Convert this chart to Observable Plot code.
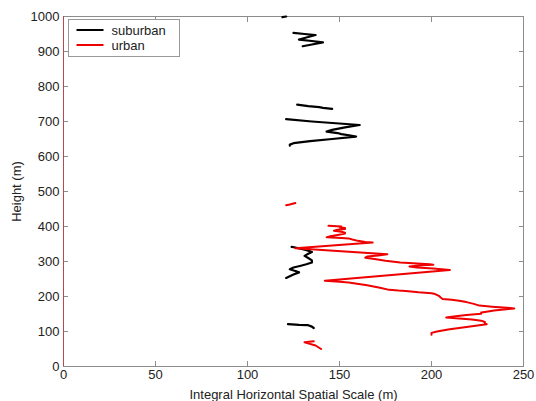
<!DOCTYPE html>
<html>
<head>
<meta charset="utf-8">
<script src="https://cdn.jsdelivr.net/npm/d3@7"></script>
<script src="https://cdn.jsdelivr.net/npm/@observablehq/plot@0.6"></script>
<style>
  body { margin: 0; background: #fff; }
  #chart { width: 536px; height: 401px; }
</style>
</head>
<body>
<div id="chart"></div>
<script>
// ---- data ----
const xTicks = [0, 50, 100, 150, 200, 250];
const yTicks = [0, 100, 200, 300, 400, 500, 600, 700, 800, 900, 1000];
const seriesNames = ["suburban", "urban"];
const seriesColors = ["#000000", "#ee0000"];
const xTitle = "Integral Horizontal Spatial Scale (m)";
const yTitle = "Height (m)";

// null entries mark gaps between measured stretches
const suburbanHeight = [1000, 998, null,
  953, 950, 947, 940, 934, 930, 926, 920, 915, null,
  748, 744, 741, 739, 736, null,
  707, 700, 695, 690, 683, 676, 671, 667, 664, 660, 657, 650, 644, 638, 634, 631, null,
  342, 340, 335, 331, 327, 322, 316, 310, 303, 297, 292, 288, 283, 278, 273, 269, 263, 258, 253, null,
  121, 119, 118, 114, 110];
const suburbanScale = [121, 119, null,
  125, 131, 137, 132, 128, 135, 141, 135, 130, null,
  127, 133, 139, 141, 146, null,
  121, 135, 148, 161, 153, 146, 143, 149, 151, 156, 159, 146, 134, 125, 123, 123, null,
  124, 126, 130, 133, 135, 133, 131, 133, 135, 135, 132, 129, 125, 123, 126, 128, 125, 123, 121, null,
  122, 128, 133, 135, 136];

const urbanHeight = [467, 463, 461, null,
  402, 400, 398, 396, 393, 391, 388, 385, 382, 380, 376, 372, 369, 367, 366, 363, 359, 356, 354,
  338, 321, 317, 314, 311, 307, 302, 297, 292, 291, 289, 286, 283, 280, 276,
  245, 242, 240, 232, 225, 219, 217, 216, 212, 209, 207, 202, 197, 193, 191, 188, 184, 179, 174,
  171, 168, 166, 164, 160, 156, 154, 151, 147, 143, 140, 137, 134, 131, 127, 123, 121,
  113, 106, 100, 96, 93, 91, null,
  72, 69, 60, 50];
const urbanScale = [126, 123, 121, null,
  144, 151, 150, 153, 153, 149, 147, 151, 153, 153, 149, 145, 143, 151, 155, 157, 160, 164, 168,
  126, 176, 171, 165, 164, 169, 175, 183, 199, 201, 195, 188, 192, 201, 210,
  142, 150, 155, 165, 172, 177, 182, 186, 193, 200, 202, 204, 205, 206, 211, 215, 219, 223, 226,
  233, 241, 245, 242, 234, 229, 227, 227, 219, 212, 208, 215, 222, 227, 229, 229, 230,
  219, 209, 203, 200, 200, 200, null,
  136, 131, 137, 140];

// ---- build tables ----
const toRows = (hs, vs, s) => hs.map((h, i) => ({height: h, scale: vs[i], series: s}));
const suburbanRows = toRows(suburbanHeight, suburbanScale, seriesNames[0]);
const urbanRows = toRows(urbanHeight, urbanScale, seriesNames[1]);

const font = "'Liberation Sans', Arial, Helvetica, sans-serif";
const axisGray = "#8c8c8c";

const chart = Plot.plot({
  width: 536,
  height: 401,
  marginLeft: 63,
  marginRight: 13,
  marginTop: 16,
  marginBottom: 35,
  x: {domain: [0, 250]},
  y: {domain: [0, 1000]},
  style: {fontFamily: font, fontSize: "13px", color: "#222", background: "#fff"},
  marks: [
    Plot.frame({stroke: axisGray}),
    // inward tick marks on all four sides
    Plot.axisX({ticks: xTicks, tickSize: -5, fill: "none", stroke: axisGray, label: null}),
    Plot.axisX({anchor: "top", ticks: xTicks, tickSize: -5, fill: "none", stroke: axisGray, label: null}),
    Plot.axisY({ticks: yTicks, tickSize: -5, fill: "none", stroke: axisGray, label: null}),
    Plot.axisY({anchor: "right", ticks: yTicks, tickSize: -5, fill: "none", stroke: axisGray, label: null}),
    // tick labels and titles
    Plot.axisX({ticks: xTicks, tickSize: 0, tickPadding: 3, fontSize: 13, fill: "#222",
      tickFormat: d => String(d),
      label: xTitle, labelAnchor: "center", labelOffset: 32, labelArrow: "none"}),
    Plot.axisY({ticks: yTicks, tickSize: 0, tickPadding: 4, fontSize: 13, fill: "#222",
      tickFormat: d => String(d),
      label: yTitle, labelAnchor: "center", labelOffset: 52, labelArrow: "none"}),
    Plot.ruleX([0], {stroke: "#b84a4a", strokeWidth: 1}),
    Plot.line(suburbanRows, {x: "scale", y: "height", stroke: seriesColors[0], strokeWidth: 2.2}),
    Plot.line(urbanRows, {x: "scale", y: "height", stroke: seriesColors[1], strokeWidth: 2})
  ]
});

// legend box in the upper-left corner of the frame
const svg = d3.select(chart);
const lg = svg.append("g").attr("transform", "translate(68.5,19.5)")
  .style("font-family", font).style("font-size", "13px");
lg.append("rect").attr("width", 111).attr("height", 37)
  .attr("fill", "#fff").attr("stroke", "#999");
seriesNames.forEach((name, i) => {
  const y = 10.5 + i * 15;
  lg.append("line").attr("x1", 8).attr("x2", 35).attr("y1", y).attr("y2", y)
    .attr("stroke", seriesColors[i]).attr("stroke-width", 2);
  lg.append("text").attr("x", 43).attr("y", y).attr("dy", "0.35em")
    .attr("text-anchor", "start")
    .attr("fill", "#222").text(name);
});

document.getElementById("chart").appendChild(chart);
</script>
</body>
</html>
